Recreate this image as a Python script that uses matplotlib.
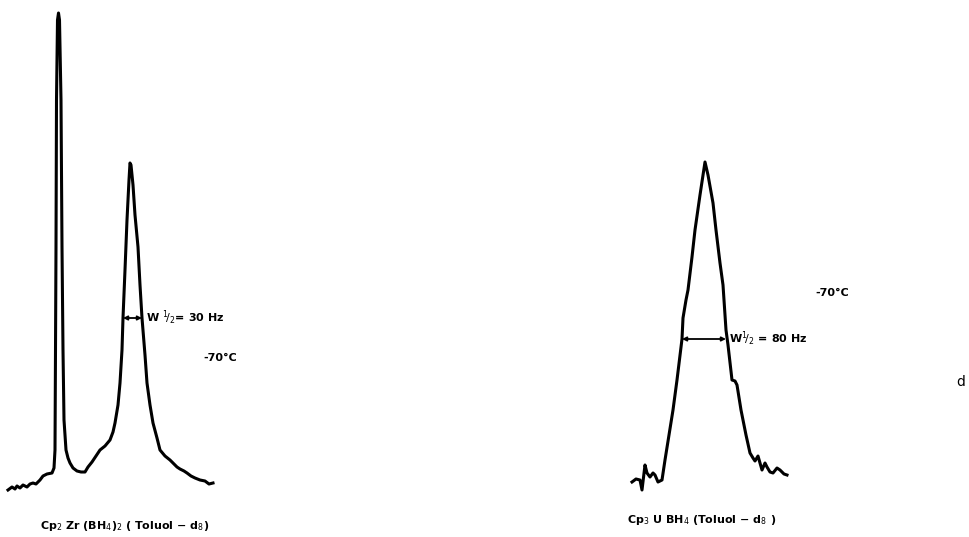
import matplotlib.pyplot as plt

# traced spectrum outlines (x, y in picture units, y grows downward)
zr_x = [8, 12, 15, 17, 20, 23, 27, 30, 33, 36, 40, 43, 47, 52, 54, 55, 55.5, 56, 56.5, 57.5, 58.5,
        59.5, 61, 62, 63, 64, 66, 68, 70, 73, 77, 81, 85, 88, 92, 96, 100, 105, 110, 113, 115, 118,
        120, 122, 123, 125, 127, 129, 130, 131, 133, 135, 138, 140, 142, 145, 147, 150, 153, 157, 160,
        165, 170, 173, 177, 180, 184, 187, 191, 195, 200, 205, 209, 213]
zr_y = [490, 487, 489, 486, 488, 485, 487, 484, 483, 484, 480, 476, 474, 473, 468, 450, 350, 247,
        100, 20, 13, 20, 100, 247, 350, 420, 450, 458, 463, 468, 471, 472, 472, 467, 462, 456, 450,
        446, 440, 432, 423, 405, 383, 350, 318, 270, 220, 180, 163, 165, 185, 215, 247, 285, 318, 355,
        383, 405, 423, 438, 450, 456, 460, 463, 467, 469, 471, 473, 476, 478, 480, 481, 484, 483]

u_x = [632, 636, 640, 642, 645, 647, 650, 653, 655, 658, 662, 665, 669, 673, 677, 682, 683, 686, 688,
       692, 695, 700, 705, 708, 713, 716, 720, 723, 726, 728, 732, 735, 737, 741, 746, 750, 753, 755,
       758, 762, 765, 767, 770, 773, 777, 780, 784, 787]
u_y = [482, 479, 480, 490, 465, 473, 477, 473, 475, 482, 480, 460, 435, 410, 380, 339, 318, 300,
       290, 257, 230, 195, 162, 175, 203, 230, 263, 285, 330, 345, 380, 381, 385, 410, 435, 453, 458,
       461, 456, 470, 463, 467, 472, 473, 468, 470, 474, 475]

zr_half = (123, 142, 318)
u_half = (682, 726, 339)

fig = plt.figure(figsize=(9.69, 5.37), dpi=100)
ax = fig.add_axes([0, 0, 1, 1])
ax.set_xlim(0, 969)
ax.set_ylim(537, 0)
ax.axis('off')

ax.plot(zr_x, zr_y, color='black', lw=2.2, solid_joinstyle='round')
ax.plot(u_x, u_y, color='black', lw=2.2, solid_joinstyle='round')

# half-width arrows
for x0, x1, y in [zr_half, u_half]:
    ax.annotate('', xy=(x0, y), xytext=(x1, y),
                arrowprops=dict(arrowstyle='<|-|>', color='black', lw=1.3,
                                mutation_scale=6, shrinkA=0, shrinkB=0))

tk = dict(color='black', fontsize=8, fontweight='bold', va='center', ha='left')
ax.text(146, 318, r'W $^1\!/_2$= 30 Hz', **tk)
ax.text(203, 358, '-70°C', **tk)
ax.text(729, 339, r'W$^1\!/_2$ = 80 Hz', **tk)
ax.text(815, 293, '-70°C', **tk)
ax.text(956, 382, 'd', color='black', fontsize=10, va='center', ha='left')

ax.text(40, 526, 'Cp$_2$ Zr (BH$_4$)$_2$ ( Toluol − d$_8$)', **tk)
ax.text(627, 520, 'Cp$_3$ U BH$_4$ (Toluol − d$_8$ )', **tk)

fig.savefig('out.png', dpi=100)
